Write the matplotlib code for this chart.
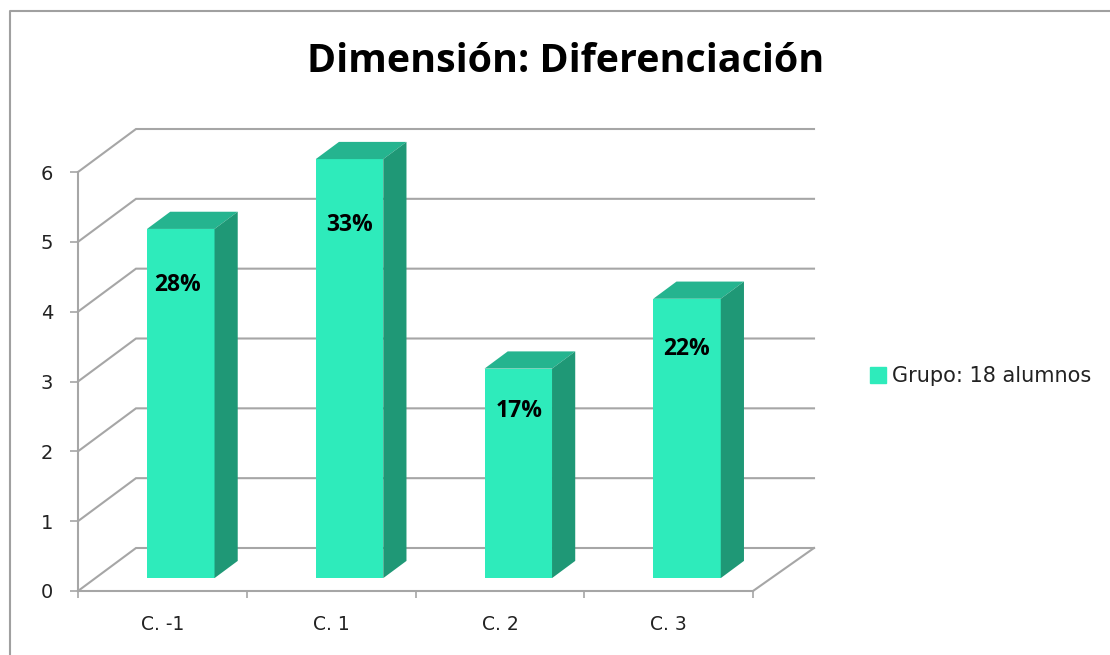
import matplotlib
matplotlib.use("Agg")
from matplotlib import pyplot as plt
from matplotlib.lines import Line2D
from matplotlib.patches import Patch

categories = ["C. -1", "C. 1", "C. 2", "C. 3"]
values = [5, 6, 3, 4]
percent_labels = ["28%", "33%", "17%", "22%"]
label_heights = [4.20, 5.06, 2.39, 3.28]
y_ticks = [0, 1, 2, 3, 4, 5, 6]
series_name = "Grupo: 18 alumnos"
title = "Dimensión: Diferenciación"

W, H = 1110, 655
GRID = "#a6a6a6"
FRONT = "#2eebbb"
TOP = "#25b48f"
SIDE = "#1f9876"
TEXT = "#222222"

fig = plt.figure(figsize=(W / 100, H / 100), dpi=100, facecolor="white")

# front plane of the fake 3d box, in pixels
left, right, top, bottom = 78, 753, 172, 591
ax = fig.add_axes([left / W, 1 - bottom / H, (right - left) / W, (bottom - top) / H])
ax.set_xlim(-0.5, 3.5)
ax.set_ylim(0, 6)
ax.patch.set_alpha(0)

# depth vector in data units
px_x = 4 / (right - left)
px_y = 6 / (bottom - top)
dx = 58 * px_x
dy = 43 * px_y
x0, x1 = -0.5, 3.5
back_right = x1 + 61 * px_x

# walls and floor
for v in y_ticks:
    ax.plot([x0, x0 + dx, back_right], [v, v + dy, v + dy], color=GRID, lw=1.5,
            clip_on=False, zorder=1, solid_joinstyle="miter")
ax.plot([x1, back_right], [0, dy], color=GRID, lw=1.5, clip_on=False, zorder=1)

# bars sit between 30% and 70% of the depth
f0, f1 = 0.3, 0.7
bar_w = 1 / 2.5
label_nudge = [-1, 3, 4, 2.5]  # px
for i, v in enumerate(values):
    xa = i - bar_w / 2 + dx * f0 + px_x
    xb = i + bar_w / 2 + dx * f0 + px_x
    base = dy * f0
    sx = dx * (f1 - f0)
    sy = dy * (f1 - f0)
    ax.bar(xa, v, width=bar_w, bottom=base, align="edge", color=FRONT, clip_on=False, zorder=3)
    ax.fill([xa, xb, xb + sx, xa + sx], [v + base, v + base, v + base + sy, v + base + sy],
            color=TOP, lw=0, clip_on=False, zorder=3)
    ax.fill([xb, xb + sx, xb + sx, xb], [base, base + sy, v + base + sy, v + base],
            color=SIDE, lw=0, clip_on=False, zorder=3)
    ax.text(i + dx * f0 - 0.01 + label_nudge[i] * px_x, label_heights[i] + base, percent_labels[i],
            ha="center", va="center", fontsize=16.5, fontweight="bold", family="Open Sans",
            color="black", zorder=4)

# axes
for s in ["top", "right"]:
    ax.spines[s].set_visible(False)
for s in ["left", "bottom"]:
    ax.spines[s].set_color(GRID)
    ax.spines[s].set_linewidth(1.5)
    ax.spines[s].set_zorder(2)
ax.set_yticks(y_ticks)
ax.set_xticks([-0.5, 0.5, 1.5, 2.5, 3.5])
ax.set_xticklabels([])
ax.set_xticks(range(len(categories)), labels=categories, minor=True)
ax.tick_params(axis="y", length=6, width=1.2, color=GRID, labelsize=14, labelcolor=TEXT, pad=12)
ax.tick_params(axis="x", which="major", length=5, width=1.2, color=GRID)
ax.tick_params(axis="x", which="minor", length=0, labelsize=13.5, labelcolor=TEXT, pad=17)

# outer frame of the chart
fig.add_artist(Line2D([10 / W, 10 / W, 1], [0, 1 - 11 / H, 1 - 11 / H], color="#a0a0a0", lw=1.5))

fig.text(565.5 / W, 1 - 62 / H, title, ha="center", va="center", fontsize=28.4, fontweight="bold",
         family="Open Sans", color="black")

leg = fig.legend(handles=[Patch(color=FRONT, label=series_name)], loc="center left",
                 bbox_to_anchor=(864 / W, 1 - 376 / H), frameon=False, fontsize=15,
                 handlelength=0.77, handleheight=0.77, handletextpad=0.29, borderpad=0.3,
                 borderaxespad=0, labelcolor=TEXT)

fig.savefig("out.png", dpi=100)
